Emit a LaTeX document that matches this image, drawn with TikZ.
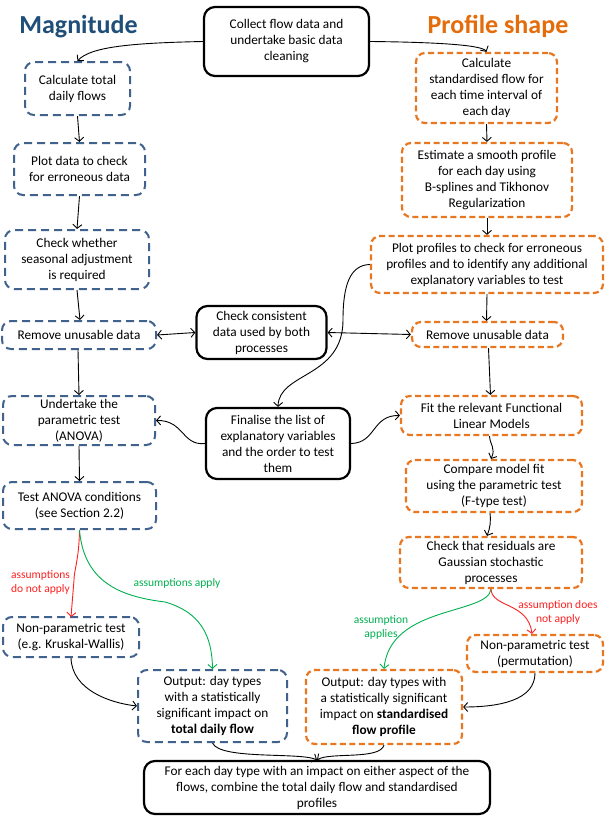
\documentclass[tikz,border=0pt]{standalone}
\usepackage{fontspec}
\setmainfont{Carlito}
\usetikzlibrary{arrows.meta}
\definecolor{magblue}{HTML}{1F4E79}
\definecolor{boxblue}{HTML}{41628D}
\definecolor{proforange}{HTML}{E46C0A}
\definecolor{boxorange}{HTML}{E87722}
\definecolor{labred}{HTML}{FF2020}
\definecolor{labgreen}{HTML}{00B050}
\tikzset{
  base/.style={rounded corners=9pt, align=center, inner sep=0pt, font=\fontsize{13.3}{16}\selectfont},
  sz/.style 2 args={minimum width=#1pt, minimum height=#2pt},
  bluebox/.style={base, draw=boxblue, line width=2pt, dash pattern=on 8pt off 5pt},
  orbox/.style={base, draw=boxorange, line width=2.2pt, dash pattern=on 6pt off 3.5pt},
  blkbox/.style={base, draw=black, line width=2.2pt, rounded corners=11pt},
  conn/.style={-{Straight Barb[length=4pt,width=9pt]}, line width=0.9pt},
  dconn/.style={{Straight Barb[length=4pt,width=9pt]}-{Straight Barb[length=4pt,width=9pt]}, line width=0.9pt},
  lab/.style={font=\fontsize{11.5}{14}\selectfont, align=center, inner sep=0pt},
  ttl/.style={font=\fontsize{26}{30}\selectfont\bfseries, inner sep=0pt, anchor=base}
}
\begin{document}
\begin{tikzpicture}[x=1pt,y=-1pt]
\useasboundingbox[fill=white] (0,0) rectangle (611,817);
% titles
\node[ttl, text=magblue] (tmag) at (78.5,33) {Magnitude};
\node[ttl, text=proforange] (tprof) at (498,33) {Profile shape};
% top
\node[blkbox, sz={165}{69}] (top) at (286.5,41.5) {Collect flow data and\\undertake basic data\\cleaning};
% left column
\node[bluebox, sz={105}{53}] (L1) at (77.5,88.5) {Calculate total\\daily flows};
\node[bluebox, sz={131}{52}] (L2) at (79.5,169) {Plot data to check\\for erroneous data};
\node[bluebox, sz={144}{59}] (L3) at (77,259.5) {Check whether\\seasonal adjustment\\is required};
\node[bluebox, sz={154}{28}] (L4) at (79,335) {Remove unusable data};
\node[bluebox, sz={152}{49}] (L5) at (79,420.5) {Undertake the\\parametric test\\(ANOVA)};
\node[bluebox, sz={153}{47}] (L6) at (79.5,505.5) {Test ANOVA conditions\\(see Section 2.2)};
\node[bluebox, sz={136}{40}] (L7) at (71,637) {Non-parametric test\\(e.g. Kruskal-Wallis)};
\node[bluebox, sz={149}{72}] (L8) at (212.5,706) {Output: day types\\with a statistically\\significant impact on\\\textbf{total daily flow}};
% middle
\node[blkbox, sz={130}{53}] (M1) at (261.5,332.5) {Check consistent\\data used by both\\processes};
\node[blkbox, sz={144}{71}] (M2) at (278,443.5) {Finalise the list of\\explanatory variables\\and the order to test\\them};
\node[blkbox, sz={346}{53}] (B) at (317,787.5) {For each day type with an impact on either aspect of the\\flows, combine the total daily flow and standardised\\profiles};
% right column
\node[orbox, sz={141}{70}] (R1) at (486.5,88) {Calculate\\standardised flow for\\each time interval of\\each day};
\node[orbox, sz={170}{74}] (R2) at (487,180) {Estimate a smooth profile\\for each day using\\B-splines and Tikhonov\\Regularization};
\node[orbox, sz={232}{57}] (R3) at (487,264.5) {Plot profiles to check for erroneous\\profiles and to identify any additional\\explanatory variables to test};
\node[orbox, sz={151}{25}] (R4) at (487.5,334.5) {Remove unusable data};
\node[orbox, sz={181}{39}] (R5) at (491.5,415.5) {Fit the relevant Functional\\Linear Models};
\node[orbox, sz={176}{52}] (R6) at (494,486) {Compare model fit\\using the parametric test\\(F-type test)};
\node[orbox, sz={182}{51}] (R7) at (491,562.5) {Check that residuals are\\Gaussian stochastic\\processes};
\node[orbox, sz={136}{37}] (R8) at (535,653.5) {Non-parametric test\\(permutation)};
\node[orbox, sz={156}{74}] (R9) at (384,707) {Output: day types with\\a statistically significant\\impact on \textbf{standardised}\\\textbf{flow profile}};
% connectors from top
\draw[conn] (top.west) .. controls (130,43) and (90,47) .. (L1.north);
\draw[conn] (top.east) .. controls (420,42) and (482,44) .. (R1.north);
% left chain
\draw[conn] (L1.south) -- (L2.north);
\draw[conn] (L2.south) -- (L3.north);
\draw[conn] (L3.south) -- ([xshift=1pt]L4.north);
\draw[conn] ([xshift=-1pt]L4.south) -- (L5.north);
\draw[conn] (L5.south) -- (L6.north);
% right chain
\draw[conn] (R1.south) -- (R2.north);
\draw[conn] (R2.south) -- (R3.north);
\draw[conn] (R3.south) -- ([xshift=-1pt]R4.north);
\draw[conn] ([xshift=1pt]R4.south) -- ([xshift=-1pt]R5.north);
\draw[conn] ([xshift=-2pt]R5.south) .. controls (490,445) and (496,448) .. ([xshift=-3pt]R6.north);
\draw[conn] ([xshift=-4pt]R6.south) .. controls (491,522) and (490,528) .. ([xshift=-4pt]R7.north);
% middle links
\draw[dconn] (L4.east) -- (M1.west);
\draw[dconn] (M1.east) -- (R4.west);
\draw[conn] (R3.west) .. controls (350,265) and (343,285) .. (343,320)
  .. controls (343,378) and (279,372) .. (M2.north);
\draw[conn] (M2.west) .. controls (182,446) and (184,420) .. (L5.east);
\draw[conn] (M2.east) .. controls (376,443) and (372,415) .. (R5.west);
% left decisions
\draw[conn, labred] (L6.south) .. controls (79,560) and (74,570) .. (74,580) -- (71,617);
\node[lab, text=labred, align=left] (lred) at (40.5,582) {assumptions\\do not apply};
\draw[conn, labgreen] (L6.south) .. controls (84,585) and (125,597) .. (165,602)
  .. controls (200,612) and (212,635) .. (L8.north);
\node[lab, text=labgreen] (lgreen) at (177,583) {assumptions apply};
\draw[conn] (L7.south) .. controls (72,690) and (110,703) .. (L8.west);
% right decisions
\draw[conn, labgreen] (R7.south) .. controls (488,615) and (390,605) .. (R9.north);
\node[lab, text=labgreen] (rgreen) at (381,627) {assumption\\applies};
\draw[conn, labred] (R7.south) .. controls (492,608) and (528,602) .. ([xshift=-3pt]R8.north);
\node[lab, text=labred] (rred) at (558,612) {assumption does\\not apply};
\draw[conn] (R8.south) .. controls (535,700) and (500,707) .. (R9.east);
% to bottom
\draw[conn] (L8.south) .. controls (220,760) and (300,752) .. (B.north);
\draw[conn] (R9.south) .. controls (380,760) and (330,752) .. (B.north);
\end{tikzpicture}
\end{document}
